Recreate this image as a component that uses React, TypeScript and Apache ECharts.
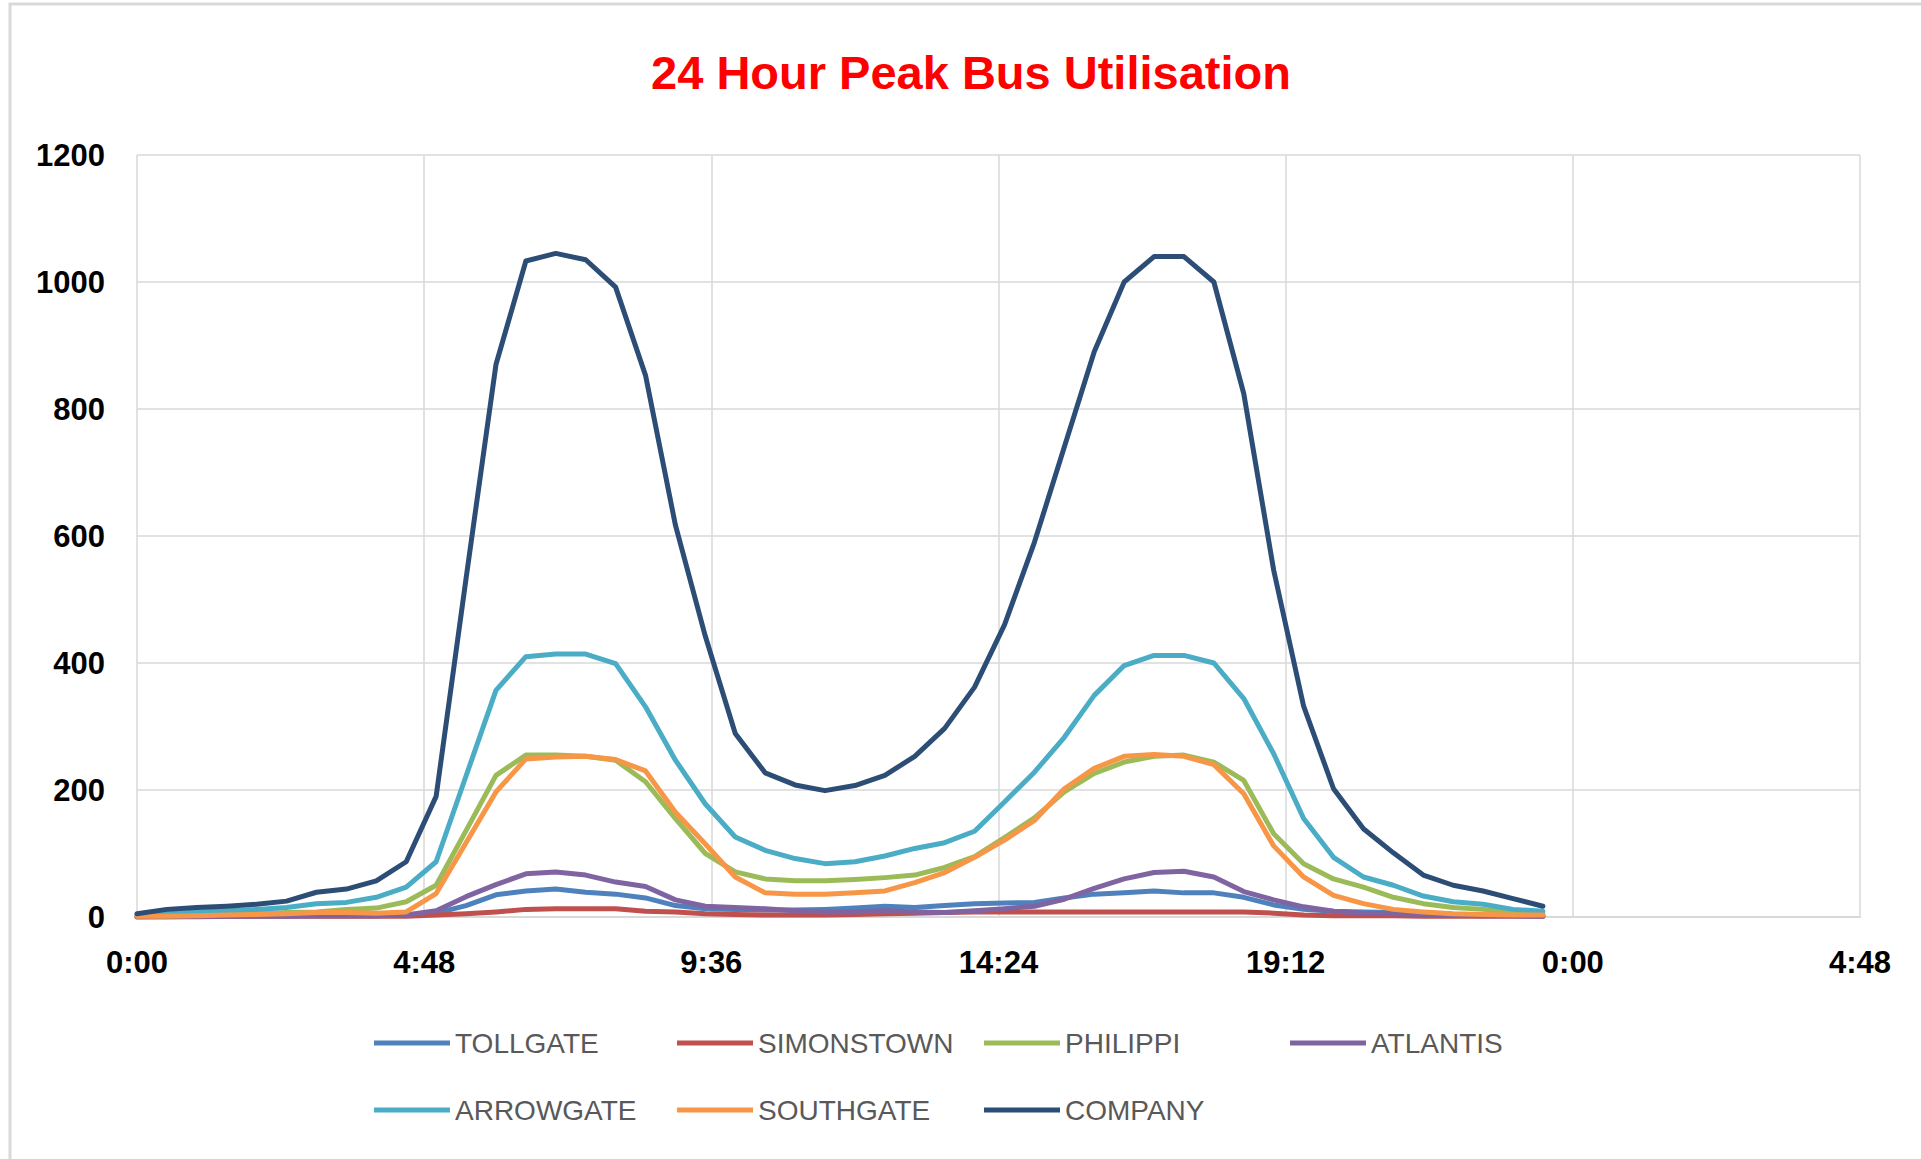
import React, { useEffect, useRef } from "react";
import * as echarts from "echarts";

const times = [
  "0:00", "0:30", "1:00", "1:30", "2:00", "2:30", "3:00", "3:30", "4:00", "4:30", "5:00", "5:30",
  "6:00", "6:30", "7:00", "7:30", "8:00", "8:30", "9:00", "9:30", "10:00", "10:30", "11:00", "11:30",
  "12:00", "12:30", "13:00", "13:30", "14:00", "14:30", "15:00", "15:30", "16:00", "16:30", "17:00", "17:30",
  "18:00", "18:30", "19:00", "19:30", "20:00", "20:30", "21:00", "21:30", "22:00", "22:30", "23:00", "23:30",
];

const seriesNames = ["TOLLGATE", "SIMONSTOWN", "PHILIPPI", "ATLANTIS", "ARROWGATE", "SOUTHGATE", "COMPANY"];
const seriesColors = ["#4F81BD", "#C0504D", "#9BBB59", "#8064A2", "#4BACC6", "#F79646", "#2C4D75"];

const tollgate = [
  0, 1, 1, 1, 2, 2, 2, 2, 2, 3, 6, 18,
  35, 41, 44, 39, 36, 30, 18, 13, 12, 11, 11, 12,
  14, 17, 15, 18, 21, 22, 23, 30, 36, 38, 41, 38,
  38, 31, 19, 12, 9, 8, 7, 5, 4, 3, 3, 2,
];
const simonstown = [
  0, 0, 0, 1, 1, 1, 1, 1, 1, 1, 3, 5,
  8, 12, 13, 13, 13, 9, 8, 5, 4, 3, 3, 3,
  4, 5, 6, 7, 8, 8, 8, 8, 8, 8, 8, 8,
  8, 8, 6, 3, 2, 2, 2, 1, 1, 1, 1, 1,
];
const philippi = [
  1, 2, 3, 4, 5, 7, 8, 12, 14, 24, 50, 136,
  223, 255, 255, 253, 247, 213, 155, 100, 71, 60, 57, 57,
  59, 62, 66, 78, 95, 125, 156, 197, 226, 244, 253, 255,
  244, 215, 131, 84, 60, 47, 31, 21, 15, 12, 8, 5,
];
const atlantis = [
  0, 0, 1, 1, 1, 1, 2, 2, 2, 3, 10, 32,
  51, 68, 71, 66, 55, 48, 27, 17, 15, 13, 10, 8,
  8, 10, 8, 7, 10, 13, 17, 28, 45, 60, 70, 72,
  63, 40, 27, 16, 9, 6, 5, 4, 3, 2, 2, 1,
];
const arrowgate = [
  3, 6, 8, 10, 12, 15, 21, 23, 31, 47, 87, 222,
  357, 410, 414, 414, 399, 331, 247, 178, 126, 105, 92, 84,
  87, 96, 108, 117, 135, 181, 228, 283, 349, 396, 412, 412,
  400, 344, 257, 155, 94, 63, 50, 33, 24, 20, 12, 9,
];
const southgate = [
  1, 1, 2, 3, 4, 5, 7, 7, 6, 8, 37, 117,
  197, 249, 252, 253, 248, 230, 165, 115, 63, 38, 36, 36,
  38, 41, 54, 70, 94, 121, 152, 202, 234, 253, 256, 253,
  240, 194, 112, 63, 34, 21, 12, 8, 5, 4, 3, 3,
];
const company = [
  5, 12, 15, 17, 20, 25, 39, 44, 57, 87, 190, 533,
  870, 1033, 1045, 1035, 992, 853, 617, 442, 289, 227, 208, 199,
  207, 223, 253, 297, 362, 460, 590, 740, 890, 1000, 1040, 1040,
  1000, 824, 546, 332, 202, 139, 101, 66, 50, 41, 29, 17,
];

const seriesValues = [tollgate, simonstown, philippi, atlantis, arrowgate, southgate, company];

const titleText = "24 Hour Peak Bus Utilisation";

const toHours = (t: string) => {
  const [h, m] = t.split(":").map(Number);
  return h + m / 60;
};

const fmtTime = (v: number) => {
  const mins = Math.round(v * 60);
  const h = Math.floor(mins / 60) % 24;
  const m = mins % 60;
  return h + ":" + (m < 10 ? "0" + m : "" + m);
};

const LABEL_FONT = "'Liberation Sans', Arial, sans-serif";

export default function App() {
  const ref = useRef<HTMLDivElement>(null);

  useEffect(() => {
    if (!ref.current) return;
    const chart = echarts.init(ref.current, undefined, { renderer: "svg" });

    const colLeft = [374, 677, 984, 1290];
    const rowTop = [1029, 1096];

    const legends = seriesNames.map((name, i) => {
      const row = i < 4 ? 0 : 1;
      const col = i < 4 ? i : i - 4;
      return {
        data: [name],
        left: colLeft[col],
        top: rowTop[row],
        padding: 0,
        itemWidth: 76,
        itemHeight: 5,
        icon: "rect",
        selectedMode: false,
        textStyle: {
          color: "#595959",
          fontSize: 28,
          fontFamily: LABEL_FONT,
        },
      };
    });

    const option: any = {
      animation: false,
      backgroundColor: "#ffffff",
      graphic: [
        {
          type: "rect",
          shape: { x: 10, y: 4, width: 2000, height: 1300 },
          style: { fill: "none", stroke: "#d9d9d9", lineWidth: 3 },
          silent: true,
        },
        {
          type: "text",
          x: 971,
          y: 72,
          style: {
            text: titleText,
            fill: "#FF0000",
            font: "bold 47px 'Liberation Sans', Arial, sans-serif",
            textAlign: "center",
            textVerticalAlign: "middle",
          },
        },
      ],
      legend: legends,
      grid: { left: 137, right: 61, top: 155, bottom: 242, containLabel: false },
      xAxis: {
        type: "value",
        min: 0,
        max: 28.8,
        interval: 4.8,
        axisLine: { show: true, lineStyle: { color: "#d9d9d9", width: 2 } },
        axisTick: { show: false },
        splitLine: { show: true, lineStyle: { color: "#d9d9d9", width: 1.5 } },
        axisLabel: {
          formatter: (v: number) => fmtTime(v),
          margin: 30,
          fontSize: 31,
          fontWeight: "bold",
          color: "#000000",
          fontFamily: LABEL_FONT,
        },
      },
      yAxis: {
        type: "value",
        min: 0,
        max: 1200,
        interval: 200,
        axisLine: { show: false },
        axisTick: { show: false },
        splitLine: { show: true, lineStyle: { color: "#d9d9d9", width: 1.5 } },
        axisLabel: {
          formatter: (v: number) => String(Math.round(v)),
          margin: 32,
          fontSize: 31,
          fontWeight: "bold",
          color: "#000000",
          fontFamily: LABEL_FONT,
        },
      },
      series: seriesNames.map((name, i) => ({
        name,
        type: "line",
        showSymbol: false,
        symbol: "none",
        color: seriesColors[i],
        lineStyle: { width: 5, color: seriesColors[i], cap: "round", join: "round" },
        data: times.map((t, k) => [toHours(t), seriesValues[i][k]]),
      })),
    };

    chart.setOption(option);
    return () => chart.dispose();
  }, []);

  return (
    <div
      ref={ref}
      style={{ position: "fixed", left: 0, top: 0, width: 1921, height: 1159, background: "#fff" }}
    />
  );
}
